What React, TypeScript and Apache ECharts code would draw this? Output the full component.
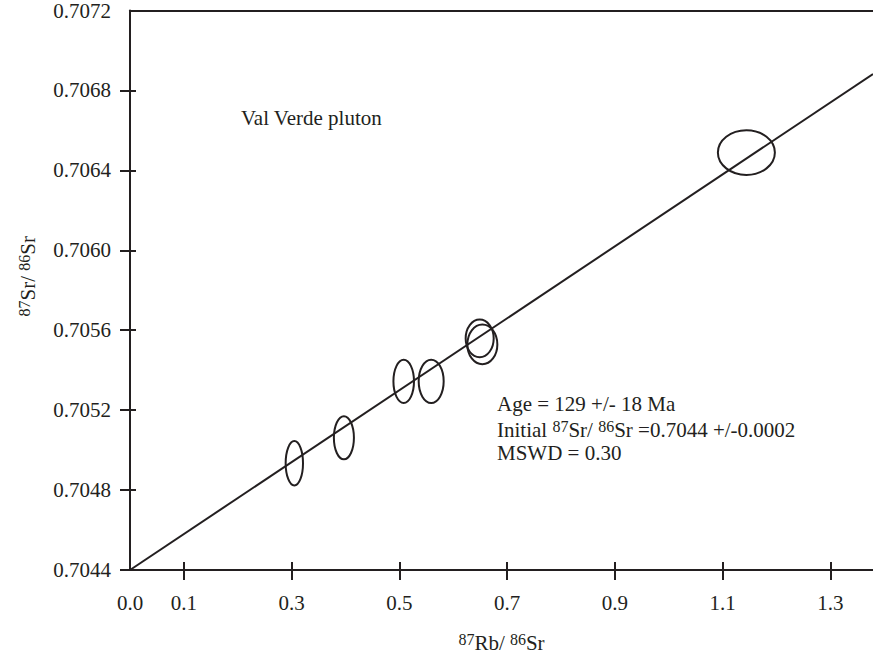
import React, { useEffect, useRef } from "react";
import * as echarts from "echarts";

// Data
const ELLIPSE_X = [0.305, 0.397, 0.508, 0.559, 0.649, 0.654, 1.144];
const ELLIPSE_Y = [0.704934, 0.705062, 0.705344, 0.705344, 0.705559, 0.705529, 0.706489];
const ERR_X = [0.0161, 0.0186, 0.0191, 0.0232, 0.026, 0.0278, 0.0529];
const ERR_Y = [0.000111, 0.000108, 0.000108, 0.000108, 0.0000945, 0.0000995, 0.000112];

const ISOCHRON_X = [0, 1.379];
const ISOCHRON_Y = [0.7044, 0.706882];

const X_TICKS = [0.1, 0.3, 0.5, 0.7, 0.9, 1.1, 1.3];
const X_LABELS = [0, 0.1, 0.3, 0.5, 0.7, 0.9, 1.1, 1.3];
const Y_TICKS = [0.7044, 0.7048, 0.7052, 0.7056, 0.706, 0.7064, 0.7068];
const Y_LABELS = [0.7044, 0.7048, 0.7052, 0.7056, 0.706, 0.7064, 0.7068, 0.7072];

const PLUTON = "Val Verde pluton";
const STATS = [
  "Age = 129 +/- 18 Ma",
  "Initial {sup|87}Sr/ {sup|86}Sr =0.7044 +/-0.0002",
  "MSWD = 0.30",
];

const INK = "#231f20";
const FONT = "'Liberation Serif', 'Times New Roman', serif";
const FS = 21;

export default function App() {
  const ref = useRef<HTMLDivElement>(null);
  useEffect(() => {
    if (!ref.current) return;
    const chart = echarts.init(ref.current, undefined, { renderer: "svg" });
    const supRich = {
      sup: { fontSize: 16, fontFamily: FONT, color: INK, verticalAlign: "top", lineHeight: 15 },
    };
    const ellipseData = ELLIPSE_X.map((x, i) => [x, ELLIPSE_Y[i], ERR_X[i], ERR_Y[i]]);
    const lineData = ISOCHRON_X.map((x, i) => [x, ISOCHRON_Y[i]]);
    const xMin = 0;
    const xMax = 1.379;
    const yMin = 0.7044;
    const yMax = 0.7072;
    const tickStyle = { color: INK, width: 2 };
    chart.setOption({
      animation: false,
      backgroundColor: "#ffffff",
      grid: { left: 130, right: 0, top: 10, bottom: 86 },
      xAxis: [
        {
          type: "value",
          min: xMin,
          max: xMax,
          position: "bottom",
          axisLine: { show: true, onZero: false, lineStyle: { color: INK, width: 2 } },
          axisTick: { show: true, customValues: X_TICKS, length: 10, inside: false, lineStyle: tickStyle },
          axisLabel: {
            customValues: X_LABELS,
            formatter: (v: number) => v.toFixed(1),
            margin: 22,
            fontFamily: FONT,
            fontSize: FS,
            color: INK,
          },
          splitLine: { show: false },
          name: "{sup|87}Rb/ {sup|86}Sr",
          nameLocation: "middle",
          nameGap: 61,
          nameTextStyle: { fontFamily: FONT, fontSize: FS, color: INK, lineHeight: 24, rich: supRich },
        },
        {
          type: "value",
          min: xMin,
          max: xMax,
          position: "bottom",
          axisLine: { show: false, onZero: false },
          axisTick: { show: true, customValues: X_TICKS, length: 8, inside: true, lineStyle: tickStyle },
          axisLabel: { show: false },
          splitLine: { show: false },
        },
        {
          type: "value",
          min: xMin,
          max: xMax,
          position: "top",
          axisLine: { show: true, onZero: false, lineStyle: { color: INK, width: 2 } },
          axisTick: { show: false },
          axisLabel: { show: false },
          splitLine: { show: false },
        },
      ],
      yAxis: [
        {
          type: "value",
          min: yMin,
          max: yMax,
          position: "left",
          axisLine: { show: true, onZero: false, lineStyle: { color: INK, width: 2 } },
          axisTick: { show: true, customValues: Y_TICKS, length: 10, inside: false, lineStyle: tickStyle },
          axisLabel: {
            customValues: Y_LABELS,
            formatter: (v: number) => v.toFixed(4),
            margin: 19,
            fontFamily: FONT,
            fontSize: FS,
            color: INK,
          },
          splitLine: { show: false },
          name: "{sup|87}Sr/ {sup|86}Sr",
          nameLocation: "middle",
          nameGap: 90,
          nameTextStyle: {
            fontFamily: FONT,
            fontSize: FS,
            color: INK,
            lineHeight: 24,
            rich: supRich,
            padding: [0, 0, 0, 28],
          },
        },
        {
          type: "value",
          min: yMin,
          max: yMax,
          position: "left",
          axisLine: { show: false, onZero: false },
          axisTick: { show: true, customValues: Y_TICKS, length: 6, inside: true, lineStyle: tickStyle },
          axisLabel: { show: false },
          splitLine: { show: false },
        },
      ],
      graphic: [
        {
          type: "text",
          x: 241,
          y: 118,
          style: { text: PLUTON, font: `${FS}px ${FONT}`, fill: INK, verticalAlign: "middle" },
        },
        ...STATS.map((t, i) => ({
          type: "text",
          x: 497,
          y: [404, 430, 453][i],
          style: {
            text: t,
            fontFamily: FONT,
            fontSize: FS,
            fill: INK,
            lineHeight: 24,
            verticalAlign: "middle",
            rich: supRich,
          },
        })),
      ],
      series: [
        {
          type: "line",
          xAxisIndex: 0,
          yAxisIndex: 0,
          data: lineData,
          showSymbol: false,
          symbol: "none",
          lineStyle: { color: INK, width: 2 },
          z: 3,
        },
        {
          type: "custom",
          xAxisIndex: 0,
          yAxisIndex: 0,
          data: ellipseData,
          renderItem: (params: any, api: any) => {
            const c = api.coord([api.value(0), api.value(1)]);
            const s = api.size([api.value(2), api.value(3)]);
            return {
              type: "ellipse",
              shape: { cx: c[0], cy: c[1], rx: s[0], ry: s[1] },
              style: { fill: "none", stroke: INK, lineWidth: 2 },
            };
          },
          z: 4,
        },
      ],
    });
    return () => chart.dispose();
  }, []);
  return (
    <div
      ref={ref}
      style={{ position: "fixed", left: 0, top: 0, width: 873, height: 660, background: "#fff" }}
    />
  );
}
